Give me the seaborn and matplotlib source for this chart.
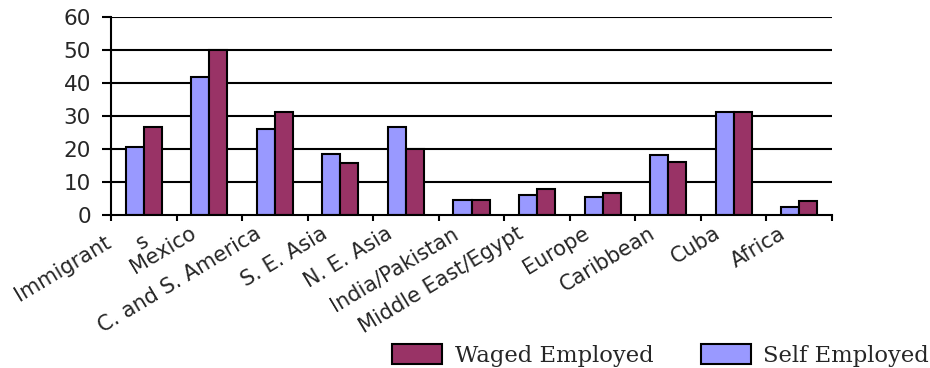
import numpy as np
import pandas as pd
import matplotlib
matplotlib.use("Agg")
import matplotlib.pyplot as plt
import matplotlib.transforms as mtransforms
from matplotlib.patches import Patch
import seaborn as sns

regions = ["Immigrant     \ns", "Mexico", "C. and S. America", "S. E. Asia", "N. E. Asia",
           "India/Pakistan", "Middle East/Egypt", "Europe", "Caribbean", "Cuba", "Africa"]
self_employed = [20.7, 41.8, 26.0, 18.5, 26.6, 4.6, 6.0, 5.4, 18.3, 31.2, 2.5]
waged_employed = [26.6, 50.0, 31.3, 15.6, 20.0, 4.6, 8.0, 6.8, 16.1, 31.2, 4.1]
series_names = ["Self Employed", "Waged Employed"]
y_ticks = [0, 10, 20, 30, 40, 50, 60]

colors = {"Self Employed": "#9999FF", "Waged Employed": "#993366"}

df = pd.DataFrame({
    "region": regions * 2,
    "series": [series_names[0]] * len(regions) + [series_names[1]] * len(regions),
    "value": self_employed + waged_employed,
})

sns.set_theme(style="white")
plt.rcParams["font.family"] = ["DejaVu Sans"]

fig = plt.figure(figsize=(9.3, 3.68), dpi=100)
ax = fig.add_axes([111 / 930, 153 / 368, 721 / 930, 198.3 / 368])

sns.barplot(data=df, x="region", y="value", hue="series", hue_order=series_names,
            order=regions, palette=colors, width=0.55, dodge=True, gap=0,
            edgecolor="black", linewidth=1.5, saturation=1, legend=False, ax=ax)

ax.set_xlim(-0.5, len(regions) - 0.5)
ax.set_ylim(0, 60)
ax.set_yticks(y_ticks)
ax.set_xlabel("")
ax.set_ylabel("")

# horizontal grid lines in black
for y in y_ticks[1:]:
    ax.axhline(y, color="black", linewidth=1.5, zorder=0.5)

for side in ["top", "right"]:
    ax.spines[side].set_visible(False)
for side in ["left", "bottom"]:
    ax.spines[side].set_color("black")
    ax.spines[side].set_linewidth(1.5)

ax.tick_params(axis="y", which="major", direction="out", length=6.5, width=1.5,
               color="black", labelsize=15.5, pad=8, left=True)

# category boundary tick marks, labels at category centers
ax.set_xticks(np.arange(-0.5, len(regions), 1.0), minor=True)
ax.tick_params(axis="x", which="minor", direction="out", length=4.5, width=1.5,
               color="black", bottom=True)
ax.tick_params(axis="x", which="major", length=0, labelsize=15, pad=12)
for lbl in ax.get_xticklabels():
    # wrapped labels sit a little further right than single-line ones
    shift_px = -1 if "\n" in lbl.get_text() else -15
    offset = mtransforms.ScaledTranslation(shift_px / 100, 0, fig.dpi_scale_trans)
    lbl.set_rotation(31)
    lbl.set_ha("right")
    lbl.set_va("center")
    lbl.set_rotation_mode("anchor")
    lbl.set_multialignment("right")
    lbl.set_linespacing(0.85)
    lbl.set_transform(lbl.get_transform() + offset)

handles = [Patch(facecolor=colors["Waged Employed"], edgecolor="black", linewidth=1.5,
                 label="Waged Employed"),
           Patch(facecolor=colors["Self Employed"], edgecolor="black", linewidth=1.5,
                 label="Self Employed")]
fig.legend(handles=handles, loc="lower right", bbox_to_anchor=(1.0, 0.0),
           ncol=2, frameon=False, prop={"family": "DejaVu Serif", "size": 16.3},
           handlelength=2.2, handleheight=0.93, handletextpad=0.55,
           columnspacing=2.1, borderaxespad=0.0, borderpad=0.05)

fig.savefig("out.png", dpi=100, facecolor="white")
